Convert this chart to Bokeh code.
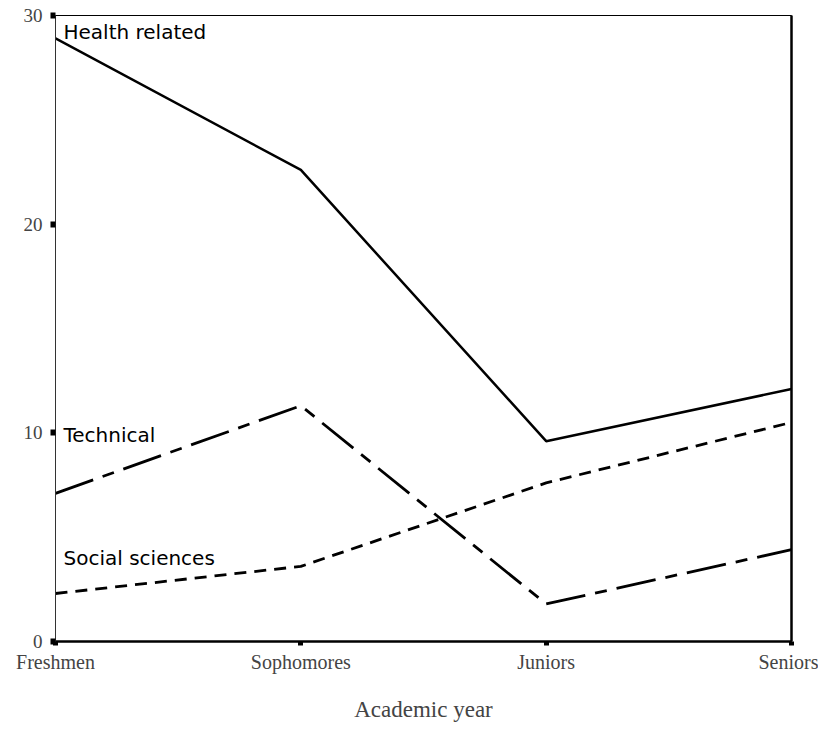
from bokeh.plotting import figure
from bokeh.models import Range1d, FixedTicker, LinearAxis, Label
from bokeh.embed import file_html
from bokeh.resources import INLINE

categories = ["Freshmen", "Sophomores", "Juniors", "Seniors"]
health_related = [28.9, 22.6, 9.6, 12.1]
technical = [7.1, 11.3, 1.8, 4.4]
social_sciences = [2.3, 3.6, 7.6, 10.5]
y_ticks = [0, 10, 20, 30]

xs = list(range(len(categories)))

p = figure(width=818, height=725, output_backend="svg", toolbar_location=None,
           x_range=Range1d(0, len(categories) - 1), y_range=Range1d(0, 30),
           min_border_left=55, min_border_right=27, min_border_top=15, min_border_bottom=84)
p.background_fill_color = "white"
p.border_fill_color = "white"
p.grid.visible = False
p.outline_line_color = "black"
p.outline_line_width = 1

serif = "Liberation Serif"

# x axis
xa = p.xaxis[0]
xa.ticker = FixedTicker(ticks=xs)
xa.major_label_overrides = {i: c for i, c in enumerate(categories)}
xa.minor_tick_line_color = None
xa.major_tick_in = 0
xa.major_tick_out = 4
xa.major_tick_line_width = 5
xa.axis_line_width = 2.5
xa.major_label_text_font = serif
xa.major_label_text_font_size = "20px"
xa.major_label_standoff = 5
xa.axis_label = "Academic year"
xa.axis_label_text_font = serif
xa.axis_label_text_font_size = "23px"
xa.axis_label_text_font_style = "normal"
xa.axis_label_standoff = 21

# y axis
ya = p.yaxis[0]
ya.ticker = FixedTicker(ticks=y_ticks)
ya.minor_tick_line_color = None
ya.major_tick_in = 0
ya.major_tick_out = 5
ya.major_tick_line_width = 6
ya.axis_line_width = 1
ya.axis_line_color = "#333333"
ya.major_label_text_font = serif
ya.major_label_text_font_size = "19px"
ya.major_label_standoff = 8

# right border (thicker)
ra = LinearAxis(axis_line_width=2.5, major_tick_line_color=None, minor_tick_line_color=None,
                major_label_text_font_size="0px", major_label_text_color=None)
p.add_layout(ra, "right")

p.line(xs, health_related, line_color="black", line_width=2.5)
p.line(xs, technical, line_color="black", line_width=2.8, line_dash="40 10 12 10")
p.line(xs, social_sciences, line_color="black", line_width=2.8, line_dash="12 8")

lab_font = "DejaVu Sans"
for txt, yv in [("Health related", 29.2), ("Technical", 9.9), ("Social sciences", 4.0)]:
    p.add_layout(Label(x=0, y=yv, x_offset=8, text=txt, text_font=lab_font,
                       text_font_size="20px", text_baseline="middle", text_color="black"))

open("out.html", "w").write(file_html(p, INLINE))
